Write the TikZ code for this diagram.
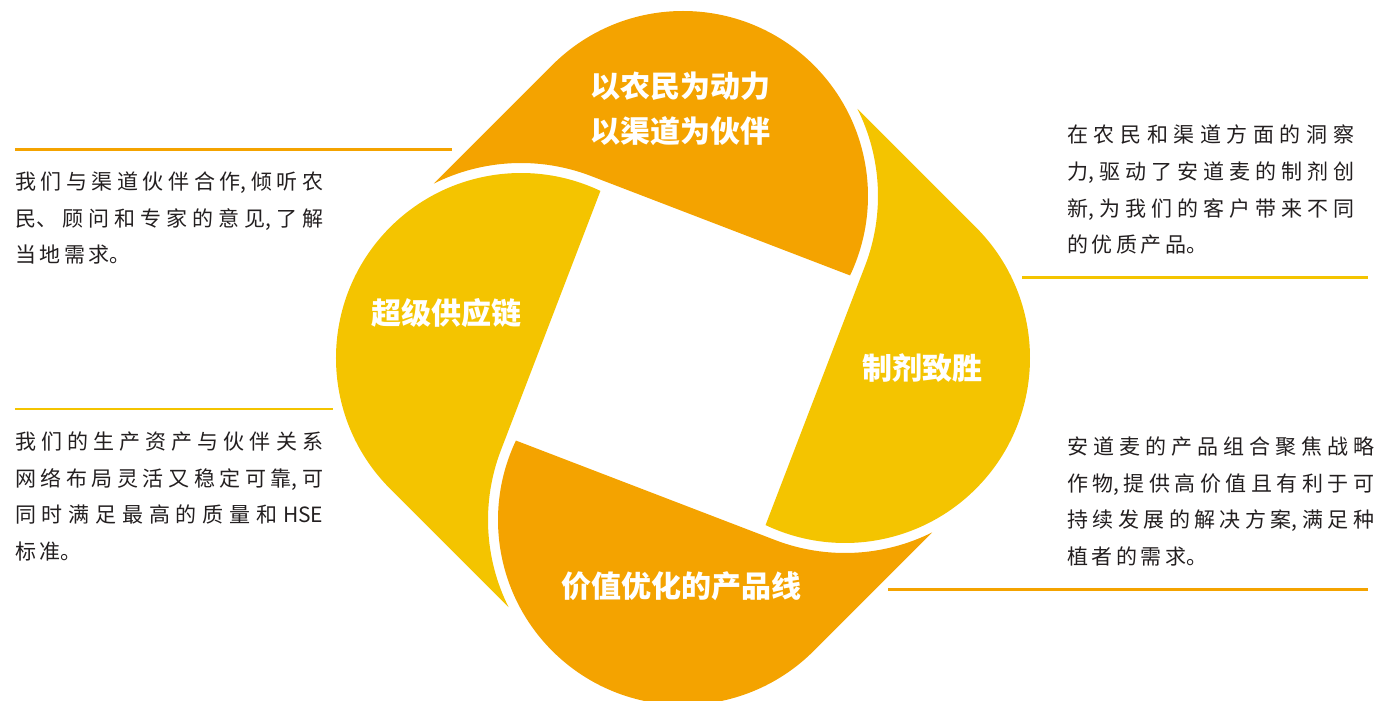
\documentclass[tikz,border=0pt]{standalone}
\usepackage{fontspec}
\setmainfont{Noto Sans CJK SC}
\XeTeXlinebreaklocale "zh"
\definecolor{petalorange}{HTML}{F4A300}
\definecolor{petalyellow}{HTML}{F4C400}
\definecolor{bodytext}{HTML}{231F20}
\tikzset{
  petal label/.style={text=white, inner sep=0, font={\bfseries\fontsize{30}{45}\selectfont}},
  blurb/.style={text=bodytext, anchor=base west, inner sep=0, align=justify, font={\fontsize{21}{36.8}\selectfont\XeTeXlinebreakskip=3.5pt plus 8pt\relax}},
  rule/.style={line width=2.5pt}
}
\begin{document}
\begin{tikzpicture}[x=1pt, y=1pt]
  \useasboundingbox (-683,-343) rectangle (696,358);
  \pgfmathsetmacro\cd{162}
  \pgfmathsetmacro\pr{185}
  \pgfmathsetmacro\rg{\pr+10}
  \pgfmathsetmacro\tilt{21}
  \pgfmathsetmacro\tip{135-acos(\pr/\rg)}
  \pgfmathsetmacro\nrm{90-\tilt}
  \pgfmathsetmacro\hh{\rg-\cd*sin(\tilt)}
  \pgfmathsetmacro\corner{\nrm-acos((\hh-\cd*cos(\tilt))/\pr)}
  % four petals, each one cut by the white gap round the next one
  \foreach \k/\c in {0/petalorange,1/petalyellow,2/petalorange,3/petalyellow}{%
    \fill[\c, rotate=-90*\k] ([shift={(-\cd,0)}]\tip:\rg) -- ([shift={(0,\cd)}]135:\pr)
      arc[start angle=135, end angle=\corner, radius=\pr]
      -- ([shift={(-\cd,0)}]\nrm:\rg) arc[start angle=\nrm, end angle=\tip, radius=\rg] -- cycle;
  }
  \node(P1)[petal label, align=center] at(-2,249) {以农民为动力\\以渠道为伙伴};
  \node(P2)[petal label] at(239,-10) {制剂致胜};
  \node(P3)[petal label] at(-1,-228) {价值优化的产品线};
  \node(P4)[petal label] at(-236,45) {超级供应链};
  \foreach \xa/\xb/\y/\c in {-668/-231/208.7/petalorange,-668/-350/-51/petalyellow,339/685/80.3/petalyellow,205/685/-231.3/petalorange}{%
    \draw[rule, \c](\xa,\y)--(\xb,\y);
  }
  \node(B1)[blurb, text width=308] at(-668,168.7) {我们与渠道伙伴合作,倾听农\linebreak 民、顾问和专家的意见,了解\linebreak 当地需求。};
  \node(B2)[blurb, text width=308] at(-668,-91.3) {我们的生产资产与伙伴关系\linebreak 网络布局灵活又稳定可靠,可\linebreak 同时满足最高的质量和HSE\linebreak 标准。};
  \node(B3)[blurb, text width=287] at(384,215.4) {在农民和渠道方面的洞察\linebreak 力,驱动了安道麦的制剂创\linebreak 新,为我们的客户带来不同\linebreak 的优质产品。};
  \node(B4)[blurb, text width=307] at(384,-96.3) {安道麦的产品组合聚焦战略\linebreak 作物,提供高价值且有利于可\linebreak 持续发展的解决方案,满足种\linebreak 植者的需求。};
\end{tikzpicture}
\end{document}
